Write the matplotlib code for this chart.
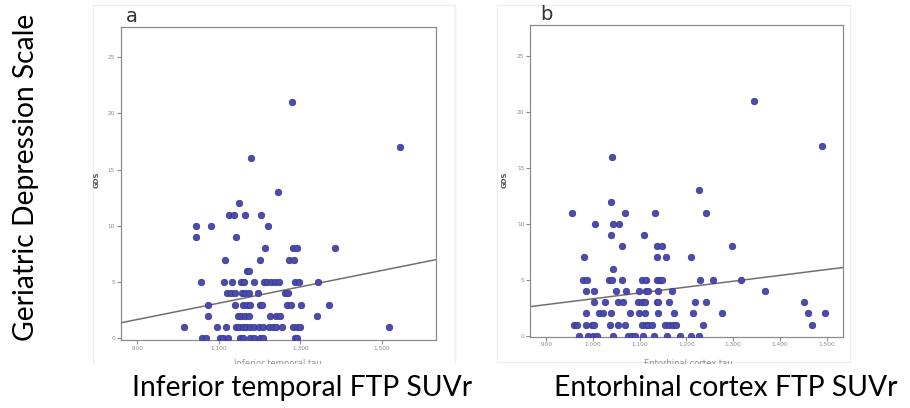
import numpy as np
import matplotlib
matplotlib.use("Agg")
import matplotlib.pyplot as plt
from matplotlib.patches import Rectangle

# ---------------- data ----------------
# Panel a: Inferior temporal tau (x) vs GDS (y)
it_x = [1.246, 1.150, 1.125, 1.136, 1.164, 1.203,
        1.044, 1.080, 1.221, 1.044, 1.141,
        1.214, 1.283, 1.293, 1.385,
        1.114, 1.201, 1.273, 1.284,
        1.169, 1.174,
        1.055, 1.113, 1.133, 1.155, 1.162, 1.187, 1.211, 1.219, 1.229, 1.238, 1.248, 1.287, 1.296, 1.344,
        1.120, 1.129, 1.139, 1.156, 1.164, 1.175, 1.196, 1.262, 1.269,
        1.074, 1.140, 1.159, 1.169, 1.177, 1.200, 1.205, 1.268, 1.277, 1.302, 1.370,
        1.074, 1.146, 1.154, 1.164, 1.175, 1.226, 1.241, 1.250, 1.340,
        1.015, 1.096, 1.118, 1.141, 1.149, 1.159, 1.167, 1.177, 1.187, 1.198, 1.208,
        1.224, 1.232, 1.241, 1.254, 1.282, 1.291, 1.300, 1.517,
        1.059, 1.069, 1.103, 1.111, 1.123, 1.152, 1.160, 1.177, 1.185, 1.200, 1.208, 1.286, 1.291,
        1.178, 1.280, 1.545]
it_gds = [13, 12, 11, 11, 11, 11,
          10, 10, 10, 9, 9,
          8, 8, 8, 8,
          7, 7, 7, 7,
          6, 6,
          5, 5, 5, 5, 5, 5, 5, 5, 5, 5, 5, 5, 5, 5,
          4, 4, 4, 4, 4, 4, 4, 4, 4,
          3, 3, 3, 3, 3, 3, 3, 3, 3, 3, 3,
          2, 2, 2, 2, 2, 2, 2, 2, 2,
          1, 1, 1, 1, 1, 1, 1, 1, 1, 1, 1,
          1, 1, 1, 1, 1, 1, 1, 1,
          0, 0, 0, 0, 0, 0, 0, 0, 0, 0, 0, 0, 0,
          16, 21, 17]

# Panel b: Entorhinal cortex tau (x) vs GDS (y)
ec_x = [1.226, 1.039,
        0.956, 1.069, 1.134, 1.243,
        1.005, 1.043, 1.056, 1.038, 1.110,
        1.062, 1.137, 1.148, 1.298,
        0.982, 1.137, 1.157, 1.211,
        1.043,
        0.980, 0.987, 1.034, 1.042, 1.062, 1.105, 1.114, 1.137, 1.144, 1.149, 1.229, 1.256, 1.316,
        0.985, 1.003, 1.050, 1.071, 1.099, 1.113, 1.119, 1.139, 1.169, 1.369,
        1.003, 1.027, 1.055, 1.064, 1.097, 1.105, 1.112, 1.137, 1.140, 1.164, 1.219, 1.241, 1.452,
        0.986, 1.014, 1.021, 1.038, 1.080, 1.099, 1.111, 1.139, 1.174, 1.214, 1.277, 1.459, 1.497,
        0.961, 0.967, 0.985, 0.998, 1.003, 1.036, 1.053, 1.070, 1.105, 1.114, 1.119, 1.127,
        1.154, 1.162, 1.171, 1.178, 1.235, 1.469,
        0.970, 0.989, 1.001, 1.010, 1.043, 1.075, 1.084, 1.091, 1.108, 1.131, 1.159, 1.186, 1.211, 1.226,
        1.041, 1.345, 1.489]
ec_gds = [13, 12,
          11, 11, 11, 11,
          10, 10, 10, 9, 9,
          8, 8, 8, 8,
          7, 7, 7, 7,
          6,
          5, 5, 5, 5, 5, 5, 5, 5, 5, 5, 5, 5, 5,
          4, 4, 4, 4, 4, 4, 4, 4, 4, 4,
          3, 3, 3, 3, 3, 3, 3, 3, 3, 3, 3, 3, 3,
          2, 2, 2, 2, 2, 2, 2, 2, 2, 2, 2, 2, 2,
          1, 1, 1, 1, 1, 1, 1, 1, 1, 1, 1, 1,
          1, 1, 1, 1, 1, 1,
          0, 0, 0, 0, 0, 0, 0, 0, 0, 0, 0, 0, 0, 0,
          16, 21, 17]

# fitted regression lines (intercept, slope)
fit_a = (-4.86, 7.26)
fit_b = (-1.94, 5.24)

x_ticks_a = [0.9, 1.1, 1.3, 1.5]
x_ticks_b = [0.9, 1.0, 1.1, 1.2, 1.3, 1.4, 1.5]
y_ticks = [0, 5, 10, 15, 20, 25]

panel_letters = ["a", "b"]
bottom_titles = ["Inferior temporal FTP SUVr", "Entorhinal cortex FTP SUVr"]
small_xlabels = ["Inferior temporal tau", "Entorhinal cortex tau"]
left_title = "Geriatric Depression Scale"
small_ylabel = "GDS"

# ---------------- drawing ----------------
W, H = 910, 408
fig = plt.figure(figsize=(W / 100, H / 100), dpi=100)
fig.patch.set_facecolor("white")

def fx(px):
    return px / W

def fy(py):
    return 1 - py / H

# faint panel image boxes
for (l, t, r, b) in [(93, 5, 455, 365), (497, 5, 850, 362)]:
    fig.patches.append(Rectangle((fx(l), fy(b)), fx(r) - fx(l), fy(t) - fy(b),
                                 transform=fig.transFigure, facecolor="none",
                                 edgecolor="#eeeeee", lw=1, zorder=-1))

dot_face = "#4b4bb0"
dot_edge = "#35358a"
frame_c = "#8c8c8c"
tick_c = "#8a8a8a"

def make_panel(rect, xs, ys, fit, xlim, ylim, xticks, letter, letter_pos, gds_pos,
               xlabel_small, xlabel_pos):
    l, t, r, b = rect
    ax = fig.add_axes([fx(l), fy(b), fx(r) - fx(l), fy(t) - fy(b)])
    ax.set_facecolor("white")
    ax.scatter(xs, ys, s=22, color=dot_face, edgecolors=dot_edge, linewidths=0.5,
               zorder=3, clip_on=True)
    xx = np.array(xlim)
    ax.plot(xx, fit[0] + fit[1] * xx, color="#707070", lw=1.1, zorder=2)
    ax.set_xlim(*xlim)
    ax.set_ylim(*ylim)
    ax.set_xticks(xticks)
    ax.set_xticklabels([("%.3f" % v).lstrip("0") if v < 1 else "%.3f" % v for v in xticks])
    ax.set_yticks(y_ticks)
    ax.set_yticklabels([str(v) for v in y_ticks])
    ax.tick_params(axis="both", direction="out", length=3, width=0.8, color=tick_c,
                   labelsize=4.2, labelcolor="#8a8a8a", pad=1)
    for s in ax.spines.values():
        s.set_color(frame_c)
        s.set_linewidth(0.9)
    fig.text(fx(letter_pos[0]), fy(letter_pos[1]), letter, fontsize=14,
             family="DejaVu Sans", color="#333333", ha="center", va="center")
    fig.text(fx(gds_pos[0]), fy(gds_pos[1]), small_ylabel, fontsize=5, rotation=90,
             color="#555555", weight="bold", ha="center", va="center")
    fig.text(fx(xlabel_pos[0]), fy(xlabel_pos[1]), xlabel_small, fontsize=6,
             color="#777777", ha="center", va="center", alpha=0.8)
    return ax

make_panel((120.7, 27.3, 436, 340), it_x, it_gds, fit_a, (0.859, 1.633), (-0.15, 27.65),
           x_ticks_a, panel_letters[0], (131.7, 17), (97, 180), small_xlabels[0], (278, 364))
make_panel((530, 25, 842.7, 336.7), ec_x, ec_gds, fit_b, (0.866, 1.534), (-0.09, 27.8),
           x_ticks_b, panel_letters[1], (546, 15), (505, 180), small_xlabels[1], (688, 363))

# hide lower half of the cut-off small axis titles
fig.patches.append(Rectangle((0.1, fy(408)), 0.9, fy(364) - fy(408),
                             transform=fig.transFigure, facecolor="white",
                             edgecolor="none", zorder=5))

big_font = ["Lato", "DejaVu Sans"]
fig.text(fx(302), fy(388), bottom_titles[0], fontsize=20.3, family=big_font,
         color="black", ha="center", va="center", zorder=10)
fig.text(fx(726), fy(388), bottom_titles[1], fontsize=20.3, family=big_font,
         color="black", ha="center", va="center", zorder=10)
fig.text(fx(26), fy(177), left_title, fontsize=20.3, family=big_font, rotation=90,
         color="black", ha="center", va="center", zorder=10)

fig.savefig("out.png", dpi=100, facecolor="white")
